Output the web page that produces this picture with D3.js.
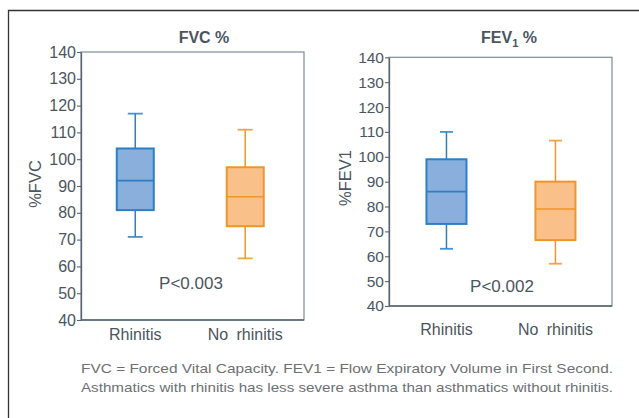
<!DOCTYPE html>
<html>
<head>
<meta charset="utf-8">
<script src="https://cdn.jsdelivr.net/npm/d3@7"></script>
<style>
  html, body { margin: 0; padding: 0; background: #fff; }
  svg { display: block; font-family: "Liberation Sans", Arial, Helvetica, sans-serif; }
</style>
</head>
<body>
<svg id="chart" width="639" height="418"></svg>
<script>
// ---- data ----
const categories = ["Rhinitis", "No rhinitis"];
const yTicks = [40, 50, 60, 70, 80, 90, 100, 110, 120, 130, 140];
// [whisker low, Q1, median, Q3, whisker high]
const fvcRhinitis   = [71, 81, 92, 104, 117];
const fvcNoRhinitis = [63, 75, 86, 97, 111];
const fev1Rhinitis   = [63, 73, 86, 99, 110];
const fev1NoRhinitis = [57, 66.5, 79, 90, 106.5];
const pValues = ["P<0.003", "P<0.002"];
const yLabels = ["%FVC", "%FEV1"];
const captionLines = [
  "FVC = Forced Vital Capacity. FEV1 = Flow Expiratory Volume in First Second.",
  "Asthmatics with rhinitis has less severe asthma than asthmatics without rhinitis."
];

// ---- styles ----
const textColor = "#4b5560";
const axisColor = "#56636e";
const fills = ["#8bafdd", "#f9c189"];
const strokes = ["#2a80c2", "#f0942c"];

const svg = d3.select("#chart");

// outer frame (top and left rules)
svg.append("path")
  .attr("d", "M8.5,418 L8.5,10.5 L639,10.5")
  .attr("fill", "none").attr("stroke", "#333").attr("stroke-width", 1.3);

const panels = [
  { x0: 81, x1: 304, y0: 52, y1: 320, pad: 0.514, align: 0.48, boxW: 37, capW: 15,
    data: [fvcRhinitis, fvcNoRhinitis], p: pValues[0], ylab: yLabels[0],
    title: "FVC %", sub: null, titleX: 204, titleY: 43,
    pX: 191, pY: 289, ylabX: 41, ylabY: 184, xlabY: 340, tickFont: 16 },
  { x0: 389, x1: 612, y0: 57.3, y1: 306, pad: 0.523, align: 0.504, boxW: 40, capW: 13,
    data: [fev1Rhinitis, fev1NoRhinitis], p: pValues[1], ylab: yLabels[1],
    title: "FEV", sub: "1", titleAfter: " %", titleX: 509, titleY: 43,
    pX: 502, pY: 292, ylabX: 351, ylabY: 178, xlabY: 335, tickFont: 15.5 }
];

panels.forEach((P, pi) => {
  const g = svg.append("g");
  const y = d3.scaleLinear().domain([40, 140]).range([P.y1, P.y0]);
  const x = d3.scalePoint().domain(categories).range([P.x0, P.x1])
              .padding(P.pad).align(P.align);

  // plot frame
  g.append("rect")
    .attr("x", P.x0).attr("y", P.y0)
    .attr("width", P.x1 - P.x0).attr("height", P.y1 - P.y0)
    .attr("fill", "none").attr("stroke", "#7d8c97").attr("stroke-width", 1.2);

  // y axis
  const ax = g.append("g")
    .attr("transform", `translate(${P.x0},0)`)
    .call(d3.axisLeft(y).tickValues(yTicks).tickSize(4).tickSizeOuter(0).tickPadding(1));
  ax.select(".domain").attr("stroke", axisColor).attr("stroke-width", 1.3);
  ax.selectAll(".tick line").attr("stroke", axisColor).attr("stroke-width", 1.1);
  ax.selectAll(".tick text")
    .attr("fill", textColor)
    .style("font-size", P.tickFont + "px")
    .style("font-family", "'Liberation Sans', Arial, sans-serif");

  // bottom axis line
  g.append("line")
    .attr("x1", P.x0).attr("x2", P.x1).attr("y1", P.y1).attr("y2", P.y1)
    .attr("stroke", axisColor).attr("stroke-width", 1.3);

  // boxes
  categories.forEach((c, ci) => {
    const d = P.data[ci];
    const cx = x(c);
    const bg = g.append("g");
    // whiskers
    bg.append("line").attr("x1", cx).attr("x2", cx)
      .attr("y1", y(d[4])).attr("y2", y(d[3]))
      .attr("stroke", strokes[ci]).attr("stroke-width", 1.5);
    bg.append("line").attr("x1", cx).attr("x2", cx)
      .attr("y1", y(d[1])).attr("y2", y(d[0]))
      .attr("stroke", strokes[ci]).attr("stroke-width", 1.5);
    [d[0], d[4]].forEach(v => {
      bg.append("line")
        .attr("x1", cx - P.capW / 2).attr("x2", cx + P.capW / 2)
        .attr("y1", y(v)).attr("y2", y(v))
        .attr("stroke", strokes[ci]).attr("stroke-width", 1.8).attr("stroke-opacity", 0.85);
    });
    // box
    bg.append("rect")
      .attr("x", cx - P.boxW / 2).attr("width", P.boxW)
      .attr("y", y(d[3])).attr("height", y(d[1]) - y(d[3]))
      .attr("fill", fills[ci]).attr("stroke", strokes[ci]).attr("stroke-width", 2);
    // median
    bg.append("line")
      .attr("x1", cx - P.boxW / 2).attr("x2", cx + P.boxW / 2)
      .attr("y1", y(d[2])).attr("y2", y(d[2]))
      .attr("stroke", strokes[ci]).attr("stroke-width", 1.6);

    // x label
    g.append("text")
      .attr("x", cx).attr("y", P.xlabY)
      .attr("text-anchor", "middle")
      .attr("fill", textColor)
      .style("font-size", "16px")
      .style("word-spacing", "4px")
      .text(c);
  });

  // title
  const t = g.append("text")
    .attr("x", P.titleX).attr("y", P.titleY)
    .attr("text-anchor", "middle")
    .attr("fill", textColor)
    .style("font-size", "16px").style("font-weight", "bold");
  t.append("tspan").text(P.title);
  if (P.sub) {
    t.append("tspan").attr("dy", 4).style("font-size", "11px").text(P.sub);
    t.append("tspan").attr("dy", -4).text(P.titleAfter);
  }

  // y label
  g.append("text")
    .attr("transform", `translate(${P.ylabX},${P.ylabY}) rotate(-90)`)
    .attr("text-anchor", "middle")
    .attr("fill", textColor)
    .style("font-size", "16.5px")
    .text(P.ylab);

  // p value
  g.append("text")
    .attr("x", P.pX).attr("y", P.pY)
    .attr("text-anchor", "middle")
    .attr("fill", textColor)
    .style("font-size", "17px")
    .text(P.p);
});

// caption
svg.selectAll("text.caption")
  .data(captionLines)
  .join("text")
  .attr("class", "caption")
  .attr("x", 81)
  .attr("y", (d, i) => 372.5 + i * 19)
  .attr("fill", "#6c7074")
  .attr("textLength", 532)
  .attr("lengthAdjust", "spacingAndGlyphs")
  .style("font-size", "13.5px")
  .text(d => d);
</script>
</body>
</html>
